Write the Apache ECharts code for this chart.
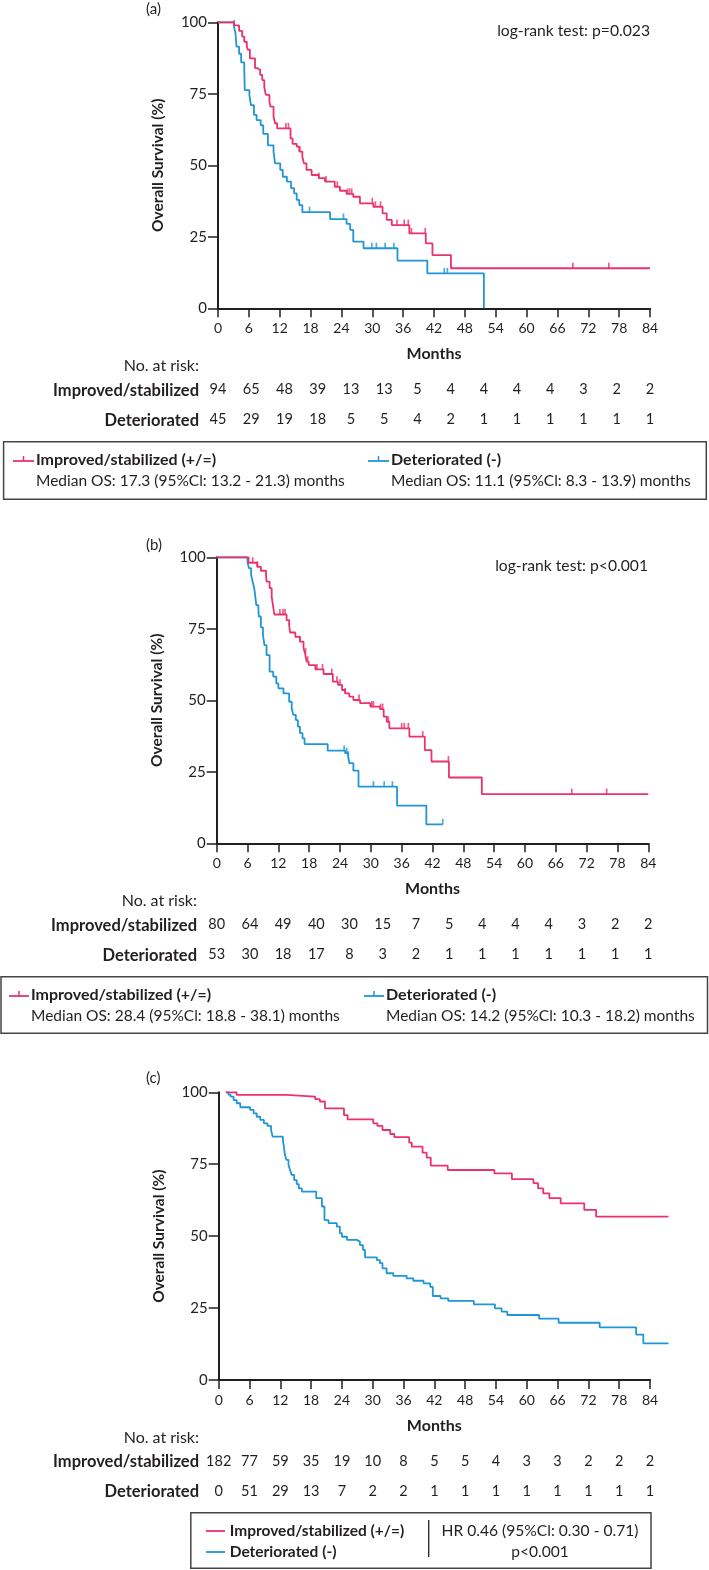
<!DOCTYPE html>
<html>
<head>
<meta charset="utf-8">
<script src="https://cdn.jsdelivr.net/npm/echarts@6/dist/echarts.min.js"></script>
<style>
  html, body { margin: 0; padding: 0; background: #fff; }
  #chart { width: 709px; height: 1570px; }
</style>
</head>
<body>
<div id="chart"></div>
<script>
// ---- data (months / % surviving) ----

// (a)
const aImpTime = [0, 3.1, 4.1, 4.7, 5.1, 5.6, 5.8, 6.2, 7.2, 7.6, 8.2, 8.6, 9.0, 9.3, 10.0, 10.2, 10.8, 11.1, 11.5, 14.1, 14.5, 15.3, 15.8, 16.4, 16.7, 17.2, 18.2, 19.6, 20.8, 22.7, 23.7, 25.0, 26.3, 27.6, 30.2, 32.0, 32.8, 33.8, 37.2, 40.4, 41.7, 45.3, 84];
const aImpSurv = [100, 98.9, 97.0, 95.0, 93.2, 91.5, 90.4, 87.4, 84.0, 83.4, 81.6, 79.8, 77.3, 74.6, 72.3, 70.5, 67.0, 64.7, 62.9, 59.4, 57.5, 56.5, 54.8, 53.0, 50.7, 48.4, 46.6, 45.5, 44.3, 42.5, 41.1, 40.0, 39.0, 36.7, 35.5, 33.2, 30.9, 29.1, 26.2, 22.7, 18.6, 14.0, 14.0];
const aImpCensor = [3.1, 13.2, 13.7, 15.9, 19.6, 21.0, 23.2, 25.2, 25.6, 26.0, 30.0, 30.6, 31.6, 34.8, 36.2, 37.0, 37.6, 40.3, 69.0, 76.0];
const aDetTime = [0, 3.1, 3.4, 3.6, 4.1, 4.5, 5.1, 5.2, 6.1, 6.4, 7.0, 7.5, 8.3, 8.8, 9.7, 10.8, 11.1, 12.1, 12.6, 13.4, 14.2, 14.8, 15.3, 15.8, 16.4, 21.8, 25.0, 25.7, 26.3, 28.3, 34.9, 40.7, 51.7];
const aDetSurv = [100, 98.5, 96.2, 91.5, 89.0, 86.0, 84.5, 76.3, 74.6, 71.0, 67.6, 65.8, 64.0, 61.0, 57.0, 54.8, 50.7, 48.4, 46.0, 44.3, 42.0, 40.2, 37.9, 36.1, 33.6, 31.2, 29.5, 27.4, 23.3, 21.0, 16.7, 12.2, 0];
const aDetCensor = [17.8, 24.4, 29.9, 30.8, 32.5, 34.2, 44.0, 44.6];
const aRiskImp = [94, 65, 48, 39, 13, 13, 5, 4, 4, 4, 4, 3, 2, 2];
const aRiskDet = [45, 29, 19, 18, 5, 5, 4, 2, 1, 1, 1, 1, 1, 1];

// (b)
const bImpTime = [0, 6.2, 7.9, 8.6, 9.6, 9.7, 10.3, 10.7, 11.0, 11.2, 13.6, 14.1, 14.3, 15.3, 16.2, 16.9, 17.2, 17.5, 17.9, 19.2, 20.8, 22.6, 23.6, 24.4, 25.0, 25.8, 26.6, 27.9, 29.9, 31.8, 32.5, 33.1, 33.6, 37.5, 40.5, 41.8, 45.2, 51.6, 84];
const bImpSurv = [100, 98.1, 96.7, 95.3, 93.8, 91.5, 89.2, 86.2, 82.7, 80.0, 78.0, 76.3, 73.7, 72.2, 70.5, 68.2, 66.4, 63.5, 62.3, 60.8, 59.2, 56.5, 55.4, 53.6, 52.4, 51.3, 50.1, 49.0, 47.8, 46.9, 44.3, 42.5, 40.2, 37.3, 32.6, 28.6, 23.0, 17.2, 17.2];
const bImpCensor = [7.0, 7.9, 12.3, 12.9, 13.3, 16.2, 17.3, 17.7, 19.5, 20.6, 22.4, 23.4, 24.0, 25.0, 27.7, 30.2, 30.5, 31.9, 32.3, 33.4, 36.0, 36.5, 37.3, 40.1, 45.1, 69.1, 75.9];
const bDetTime = [0, 6.0, 6.3, 6.7, 7.0, 7.3, 7.5, 7.7, 8.1, 8.2, 8.6, 9.0, 9.3, 9.7, 10.3, 11.0, 11.6, 12.0, 13.0, 14.1, 14.6, 14.9, 15.4, 15.8, 16.2, 16.7, 17.1, 21.6, 25.0, 25.6, 25.8, 26.6, 27.6, 35.1, 40.8, 44.0];
const bDetSurv = [100, 98.1, 96.2, 93.8, 91.5, 89.2, 86.5, 83.3, 82.2, 79.3, 75.5, 72.8, 69.3, 65.8, 60.0, 58.3, 55.9, 54.2, 52.4, 49.5, 47.2, 44.9, 43.1, 40.8, 38.5, 36.7, 34.7, 32.4, 31.5, 30.3, 28.0, 25.4, 19.8, 13.2, 6.6, 6.6];
const bDetCensor = [24.8, 25.3, 25.6, 30.5, 32.6, 34.2, 44.0];
const bRiskImp = [80, 64, 49, 40, 30, 15, 7, 5, 4, 4, 4, 3, 2, 2];
const bRiskDet = [53, 30, 18, 17, 8, 3, 2, 1, 1, 1, 1, 1, 1, 1];

// (c)
const cImpTime = [1.4, 3.5, 13.2, 18.8, 19.7, 20.7, 24.4, 25.1, 30.1, 30.9, 31.9, 33.4, 34.2, 37.1, 37.6, 39.7, 40.5, 41.3, 44.6, 53.7, 57.1, 61.3, 62.2, 63.2, 64.4, 66.6, 71.2, 73.5, 87.6];
const cImpSurv = [100, 99.1, 98.5, 97.6, 96.8, 94.4, 92.1, 90.6, 89.2, 88.3, 86.9, 85.5, 84.4, 82.5, 81.1, 79.0, 77.3, 74.5, 73.0, 71.8, 69.8, 68.4, 66.6, 64.9, 63.2, 61.4, 59.1, 56.8, 56.8];
const cDetTime = [1.4, 1.9, 2.3, 2.9, 3.5, 4.2, 6.1, 6.8, 7.4, 8.1, 8.8, 9.5, 10.2, 10.5, 12.5, 12.7, 12.9, 13.2, 13.6, 13.9, 14.2, 14.7, 15.2, 15.6, 16.2, 19.0, 20.1, 20.6, 21.4, 23.0, 23.6, 24.0, 25.0, 26.9, 27.5, 28.1, 28.5, 30.8, 31.4, 31.9, 32.7, 34.0, 36.6, 37.9, 39.9, 41.2, 41.7, 43.2, 44.7, 49.7, 53.8, 55.1, 56.2, 62.4, 66.2, 74.2, 81.3, 82.7, 87.6];
const cDetSurv = [100, 99.2, 98.5, 97.3, 96.2, 94.8, 93.9, 92.7, 91.5, 90.4, 89.2, 88.3, 86.9, 84.6, 83.4, 81.1, 78.2, 76.5, 74.7, 73.0, 71.3, 69.5, 68.1, 66.6, 65.5, 63.2, 60.3, 55.6, 54.5, 53.3, 51.0, 49.8, 48.7, 48.1, 46.9, 45.2, 42.6, 41.7, 40.6, 38.8, 37.1, 36.2, 35.3, 34.5, 33.6, 32.4, 29.2, 28.4, 27.5, 26.3, 24.9, 23.8, 22.6, 21.3, 19.9, 18.3, 15.8, 12.7, 12.7];
const cRiskImp = [182, 77, 59, 35, 19, 10, 8, 5, 5, 4, 3, 3, 2, 2, 2];
const cRiskDet = [0, 51, 29, 13, 7, 2, 2, 1, 1, 1, 1, 1, 1, 1, 1];

const RED = '#e9336a';
const BLUE = '#2196d6';
const INK = '#231f20';
const FONT = 'Lato, "Open Sans", sans-serif';
const X_MAX = 84;

// geometry of the three panels
const grids = [
    { left: 218, top: 22.3, width: 432, height: 286 },
    { left: 216.7, top: 557.3, width: 431.6, height: 286 },
    { left: 218.7, top: 1092.3, width: 431.3, height: 287.7 }
];
// panel (c) curves run past the 84-month axis end: same scale, wider hidden grid
const cEnd = Math.max(cImpTime[cImpTime.length - 1], cDetTime[cDetTime.length - 1]);
grids.push(Object.assign({}, grids[2], { width: grids[2].width * cEnd / X_MAX }));

function pairs(t, s) {
    return t.map((v, i) => [v, s[i]]);
}
// survival value of the step curve at time t (for placing censor ticks)
function survAt(t, s, x) {
    let v = s[0];
    for (let i = 0; i < t.length; i++) {
        if (t[i] <= x) v = s[i];
    }
    return v;
}
function censorPts(t, s, c) {
    return c.map(x => [x, survAt(t, s, x)]);
}

const xAxes = [];
const yAxes = [];
const series = [];

function addPanel(gi, riskImp, riskDet) {
    const base = xAxes.length;
    xAxes.push({
        gridIndex: gi, type: 'value', min: 0, max: X_MAX, interval: 6,
        axisLine: { lineStyle: { color: INK, width: 2 } },
        axisTick: { length: 9, lineStyle: { color: INK, width: 1.5 } },
        axisLabel: { color: INK, fontSize: 14, fontFamily: FONT, margin: 13 },
        splitLine: { show: false },
        name: 'Months', nameLocation: 'middle', nameGap: 38,
        nameTextStyle: { color: INK, fontSize: 16, fontWeight: 'bold', fontFamily: FONT }
    });
    // numbers at risk: evenly spread from 0 to 84 months
    [[riskImp, 74], [riskDet, 104]].forEach(([arr, off]) => {
        xAxes.push({
            gridIndex: gi, type: 'category', boundaryGap: false,
            data: arr.map(String),
            position: 'bottom', offset: off,
            axisLine: { show: false }, axisTick: { show: false }, splitLine: { show: false },
            axisLabel: { color: INK, fontSize: 14.5, fontFamily: FONT, margin: 0, interval: 0 }
        });
    });
    yAxes.push({
        gridIndex: gi, type: 'value', min: 0, max: 100, interval: 25,
        axisLine: { show: true, lineStyle: { color: INK, width: 2 } },
        axisTick: { show: true, length: 10, lineStyle: { color: INK, width: 1.5 } },
        axisLabel: { color: INK, fontSize: 15, fontFamily: FONT, margin: 11 },
        splitLine: { show: false },
        name: 'Overall Survival (%)', nameLocation: 'middle', nameGap: 52, nameRotate: 90,
        nameTextStyle: { color: INK, fontSize: 15.5, fontWeight: 'bold', fontFamily: FONT }
    });
    return base;
}

function addCurve(xi, yi, t, s, color) {
    series.push({
        type: 'line', xAxisIndex: xi, yAxisIndex: yi, step: 'end',
        data: pairs(t, s), showSymbol: false, clip: false,
        lineStyle: { color: color, width: 1.8 }, animation: false
    });
}
function addCensor(xi, yi, t, s, c, color) {
    series.push({
        type: 'scatter', xAxisIndex: xi, yAxisIndex: yi,
        data: censorPts(t, s, c), symbol: 'rect', symbolSize: [1.7, 5.5], symbolOffset: [0, -2.75],
        itemStyle: { color: color }, animation: false
    });
}

const xa = addPanel(0, aRiskImp, aRiskDet);
addCurve(xa, 0, aDetTime, aDetSurv, BLUE);
addCurve(xa, 0, aImpTime, aImpSurv, RED);
addCensor(xa, 0, aDetTime, aDetSurv, aDetCensor, BLUE);
addCensor(xa, 0, aImpTime, aImpSurv, aImpCensor, RED);

const xb = addPanel(1, bRiskImp, bRiskDet);
addCurve(xb, 1, bDetTime, bDetSurv, BLUE);
addCurve(xb, 1, bImpTime, bImpSurv, RED);
addCensor(xb, 1, bDetTime, bDetSurv, bDetCensor, BLUE);
addCensor(xb, 1, bImpTime, bImpSurv, bImpCensor, RED);

addPanel(2, cRiskImp, cRiskDet);
// hidden axes of the wider grid used by panel (c) curves
xAxes.push({ gridIndex: 3, type: 'value', min: 0, max: cEnd, show: false, splitLine: { show: false } });
yAxes.push({ gridIndex: 3, type: 'value', min: 0, max: 100, show: false, splitLine: { show: false } });
const xcw = xAxes.length - 1, ycw = yAxes.length - 1;
addCurve(xcw, ycw, cDetTime, cDetSurv, BLUE);
addCurve(xcw, ycw, cImpTime, cImpSurv, RED);

// ---- text & legend boxes ----
function txt(text, x, y, opt) {
    opt = opt || {};
    return {
        type: 'text', silent: true,
        style: {
            text: text, x: x, y: y, fill: INK,
            font: (opt.weight || 'normal') + ' ' + (opt.size || 15.5) + 'px ' + FONT,
            align: opt.align || 'left', textAlign: opt.align || 'left',
            verticalAlign: 'middle', textVerticalAlign: 'middle'
        }
    };
}
function seg(x1, y1, x2, y2, color, w) {
    return { type: 'line', silent: true, shape: { x1, y1, x2, y2 }, style: { stroke: color, lineWidth: w || 1.8 } };
}
function legendMark(x1, x2, y, color, tick) {
    const out = [seg(x1, y, x2, y, color)];
    if (tick) out.push(seg((x1 + x2) / 2, y, (x1 + x2) / 2, y - 5, color, 1.5));
    return out;
}

const graphics = [];
function riskLabels(axisY, right) {
    graphics.push(txt('No. at risk:', right, axisY + 58, { align: 'right', size: 16 }));
    graphics.push(txt('Improved/stabilized', right, axisY + 82, { align: 'right', weight: 'bold', size: 16.5 }));
    graphics.push(txt('Deteriorated', right, axisY + 112, { align: 'right', weight: 'bold', size: 16.5 }));
}

// (a)
graphics.push(txt('(a)', 146, 9, { size: 15 }));
graphics.push(txt('log-rank test: p=0.023', 650, 31, { align: 'right', size: 15.7 }));
riskLabels(308.3, 199);
graphics.push({ type: 'rect', silent: true, shape: { x: 3.6, y: 441.7, width: 702.7, height: 57.6 }, style: { fill: 'none', stroke: '#444', lineWidth: 1.5 } });
graphics.push(...legendMark(13, 34, 461, RED, true));
graphics.push(txt('Improved/stabilized (+/=)', 36, 460, { weight: 'bold', size: 16 }));
graphics.push(txt('Median OS: 17.3 (95%Cl: 13.2 - 21.3) months', 36, 481));
graphics.push(...legendMark(368, 389, 461, BLUE, true));
graphics.push(txt('Deteriorated (-)', 391, 460, { weight: 'bold', size: 16 }));
graphics.push(txt('Median OS: 11.1 (95%Cl: 8.3 - 13.9) months', 391, 481));

// (b)
graphics.push(txt('(b)', 146, 545, { size: 15 }));
graphics.push(txt('log-rank test: p<0.001', 648, 566, { align: 'right', size: 15.7 }));
riskLabels(843.3, 197);
graphics.push({ type: 'rect', silent: true, shape: { x: 1, y: 976.7, width: 706.5, height: 56.6 }, style: { fill: 'none', stroke: '#444', lineWidth: 1.5 } });
graphics.push(...legendMark(9, 29, 996, RED, true));
graphics.push(txt('Improved/stabilized (+/=)', 31, 995, { weight: 'bold', size: 16 }));
graphics.push(txt('Median OS: 28.4 (95%Cl: 18.8 - 38.1) months', 31, 1016));
graphics.push(...legendMark(364, 384, 996, BLUE, true));
graphics.push(txt('Deteriorated (-)', 386, 995, { weight: 'bold', size: 16 }));
graphics.push(txt('Median OS: 14.2 (95%Cl: 10.3 - 18.2) months', 386, 1016));

// (c)
graphics.push(txt('(c)', 146, 1078, { size: 15 }));
riskLabels(1380, 199);
graphics.push({ type: 'rect', silent: true, shape: { x: 190.8, y: 1512.7, width: 460.2, height: 55.6 }, style: { fill: 'none', stroke: '#444', lineWidth: 1.5 } });
graphics.push(...legendMark(206, 225, 1531, RED, false));
graphics.push(txt('Improved/stabilized (+/=)', 229.7, 1530.7, { weight: 'bold', size: 15.5 }));
graphics.push(...legendMark(206, 225, 1552, BLUE, false));
graphics.push(txt('Deteriorated (-)', 229.7, 1551.7, { weight: 'bold', size: 15.5 }));
graphics.push(seg(428.7, 1520, 428.7, 1557, INK, 1.3));
graphics.push(txt('HR 0.46 (95%Cl: 0.30 - 0.71)', 540, 1530.7, { align: 'center', size: 15.6 }));
graphics.push(txt('p<0.001', 540, 1551.7, { align: 'center', size: 15.6 }));

const chart = echarts.init(document.getElementById('chart'), null, { renderer: 'canvas' });
chart.setOption({
    animation: false,
    backgroundColor: '#fff',
    textStyle: { fontFamily: FONT },
    grid: grids,
    xAxis: xAxes,
    yAxis: yAxes,
    series: series,
    graphic: graphics
});
</script>
</body>
</html>
